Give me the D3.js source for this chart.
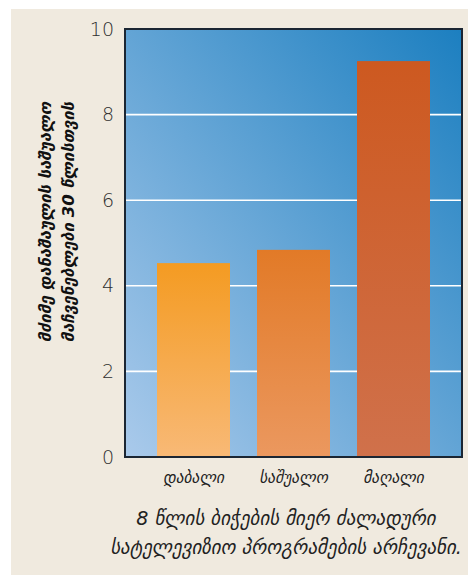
<!DOCTYPE html>
<html><head><meta charset="utf-8">
<script src="https://cdn.jsdelivr.net/npm/d3@7"></script>
<style>body{margin:0;background:#fff;}svg{display:block;}</style>
</head><body>
<script>
const categories = ["დაბალი", "საშუალო", "მაღალი"];
const values = [4.53, 4.84, 9.25];
const yTicks = [0, 2, 4, 6, 8, 10];
const yTitle = ["მძიმე დანაშაულის საშუალო", "მაჩვენებლები 30 წლისთვის"];
const caption = ["8 წლის ბიჭების მიერ ძალადური", "სატელევიზიო პროგრამების არჩევანი."];
const barTop = ["#f49b22", "#e27a27", "#cd5920"];
const barBottom = ["#f8b976", "#eb985f", "#d0714b"];

const W = 468, H = 575;
const m = {l:125, r:462, t:29, b:457};
const svg = d3.select("body").append("svg").attr("width", W).attr("height", H);
const defs = svg.append("defs");
const bg = defs.append("linearGradient").attr("id","bg").attr("x1","0").attr("y1","1").attr("x2","1").attr("y2","0");
bg.append("stop").attr("offset","0").attr("stop-color","#aacaeb");
bg.append("stop").attr("offset","1").attr("stop-color","#1c7fc0");
categories.forEach((c,i)=>{
  const g = defs.append("linearGradient").attr("id","bar"+i).attr("x1","0").attr("y1","0").attr("x2","0").attr("y2","1");
  g.append("stop").attr("offset","0").attr("stop-color",barTop[i]);
  g.append("stop").attr("offset","1").attr("stop-color",barBottom[i]);
});

svg.append("rect").attr("x",11).attr("y",9).attr("width",W-11).attr("height",H-9).attr("fill","#f0eadf");

const x = d3.scaleBand().domain(categories).range([m.l, m.r]).paddingInner(0.27).paddingOuter(0.32);
const y = d3.scaleLinear().domain([0,10]).range([m.b, m.t]);

svg.append("rect").attr("x",m.l).attr("y",m.t).attr("width",m.r-m.l).attr("height",m.b-m.t).attr("fill","url(#bg)");

svg.append("g").selectAll("line").data(yTicks.filter(d=>d>0&&d<10)).join("line")
  .attr("x1",m.l).attr("x2",m.r).attr("y1",d=>y(d)).attr("y2",d=>y(d))
  .attr("stroke","#fff").attr("stroke-width",1.6);

svg.append("g").selectAll("rect").data(values).join("rect")
  .attr("x",(d,i)=>x(categories[i])).attr("width",x.bandwidth())
  .attr("y",d=>y(d)).attr("height",d=>y(0)-y(d))
  .attr("fill",(d,i)=>`url(#bar${i})`);

svg.append("rect").attr("x",m.l).attr("y",m.t).attr("width",m.r-m.l).attr("height",m.b-m.t)
  .attr("fill","none").attr("stroke","#1b2633").attr("stroke-width",2);

const yAxis = svg.append("g").attr("transform",`translate(${m.l},0)`)
  .call(d3.axisLeft(y).tickValues(yTicks).tickSize(0).tickPadding(11));
yAxis.select(".domain").remove();
yAxis.selectAll("text").attr("font-family","'DejaVu Sans'").attr("font-weight","300").attr("font-size",19).attr("fill","#2e2e2e");

const xAxis = svg.append("g").attr("transform",`translate(0,${m.b})`)
  .call(d3.axisBottom(x).tickSize(0).tickPadding(15));
xAxis.select(".domain").remove();
xAxis.selectAll("text").attr("font-family","'DejaVu Sans'").attr("font-style","italic").attr("font-size",15.5).attr("fill","#222");

const yt = svg.append("text").attr("transform","translate(0,222) rotate(-90)")
  .attr("text-anchor","middle").attr("font-family","'DejaVu Sans'").attr("font-style","italic")
  .attr("font-weight","bold").attr("font-size",16.5).attr("fill","#111");
yTitle.forEach((t,i)=>yt.append("tspan").attr("x",0).attr("y",51+i*23).text(t));

const cap = svg.append("text").attr("text-anchor","middle").attr("font-family","'DejaVu Sans'")
  .attr("font-style","italic").attr("font-size",19).attr("fill","#222");
caption.forEach((t,i)=>cap.append("tspan").attr("x",286).attr("y",525+i*29).text(t));
</script>
</body></html>
